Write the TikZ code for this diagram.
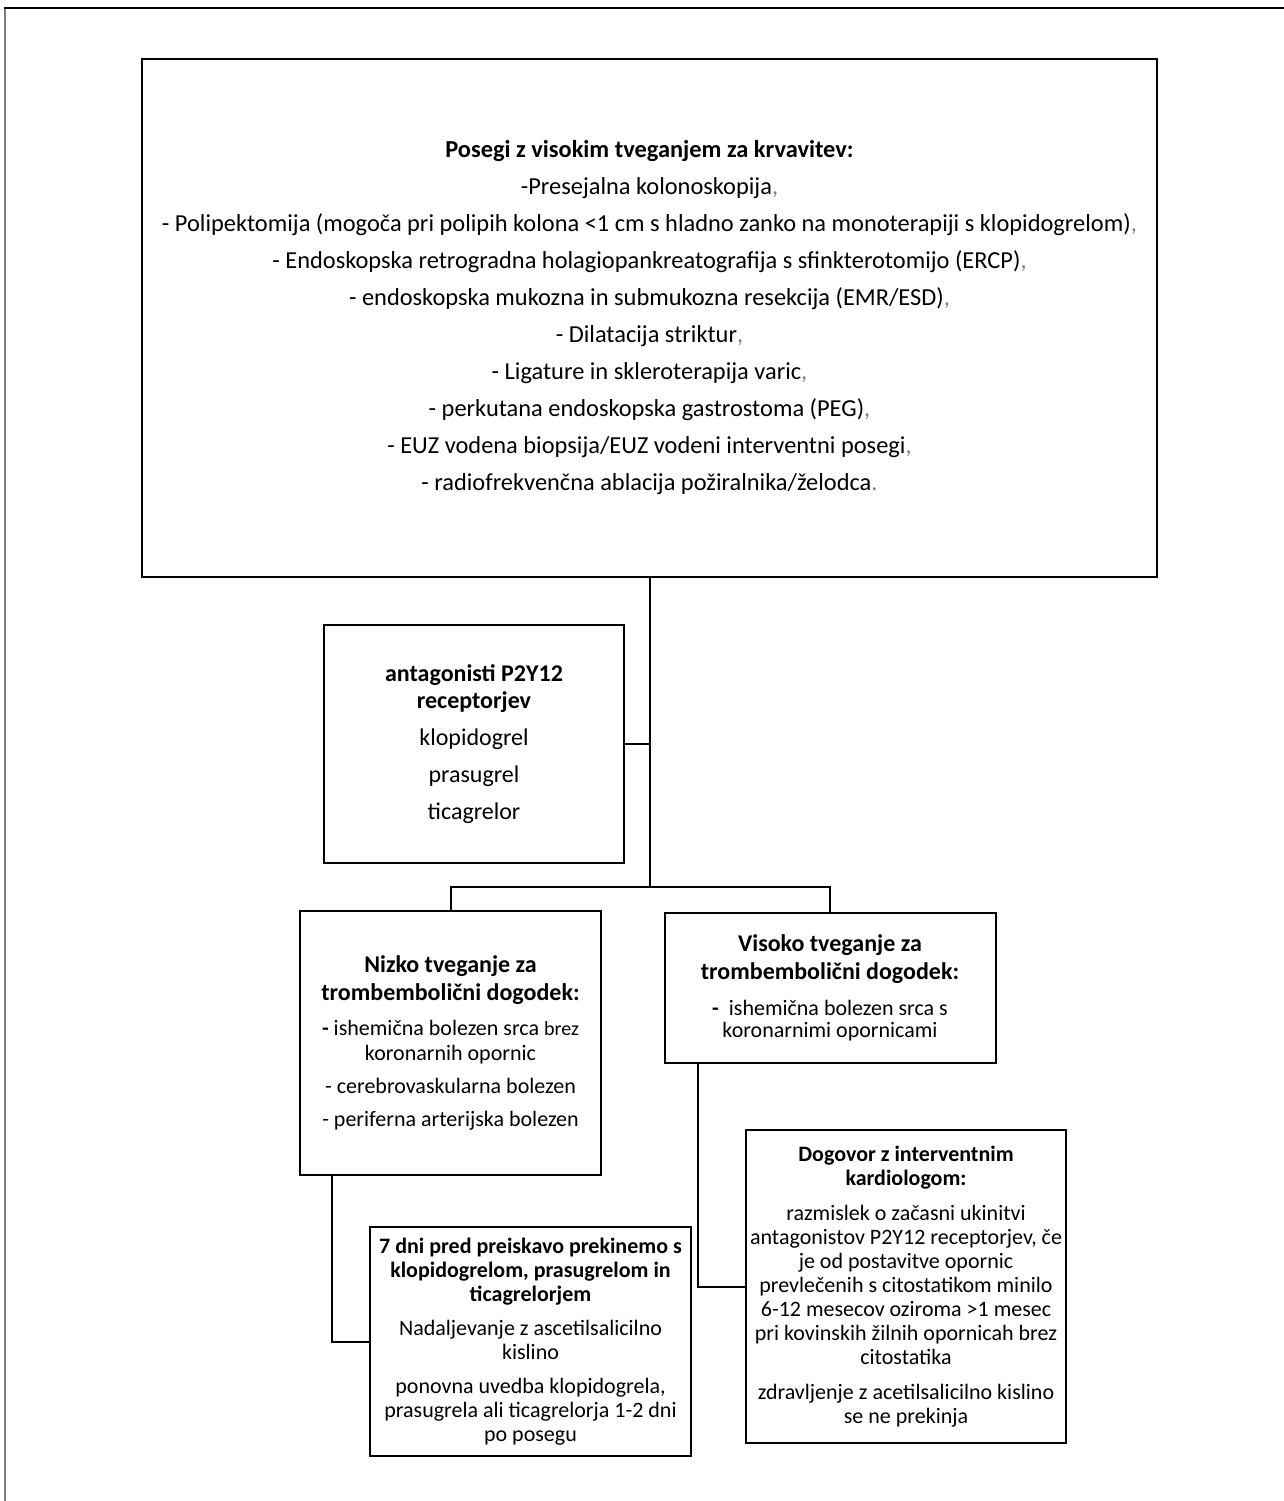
\documentclass[tikz,border=0pt]{standalone}
\usepackage{fontspec}
\setmainfont{Carlito}
\usepackage{xcolor}
\newcommand\gcm{\textcolor{gray}{,}}
\tikzset{
  box/.style={draw=black, line width=2pt, inner sep=0pt, align=center, anchor=center},
  conn/.style={draw=black, line width=2pt},
}
\begin{document}
\begin{tikzpicture}[x=1pt,y=-1pt]
\useasboundingbox (0,0) rectangle (1284,1501);
\draw[gray, line width=1.5pt] (5,1501) -- (5,8);
\draw[black, line width=1.5pt] (4.25,8) -- (1284,8);

\node[box, line width=2.5pt, minimum width=1015pt, minimum height=518pt,
  font=\fontsize{24.4}{37}\selectfont] (top) at (649.5,318) {%
\textbf{Posegi z visokim tveganjem za krvavitev:}\\
-Presejalna kolonoskopija\gcm\\
- Polipektomija (mogoča pri polipih kolona <1 cm s hladno zanko na monoterapiji s klopidogrelom)\gcm\\
- Endoskopska retrogradna holagiopankreatografija s sfinkterotomijo (ERCP)\gcm\\
- endoskopska mukozna in submukozna resekcija (EMR/ESD)\gcm\\
- Dilatacija striktur\gcm\\
- Ligature in skleroterapija varic\gcm\\
- perkutana endoskopska gastrostoma (PEG)\gcm\\
- EUZ vodena biopsija/EUZ vodeni interventni posegi\gcm\\
- radiofrekvenčna ablacija požiralnika/želodca\textcolor{gray}{.}};

\node[box, minimum width=300pt, minimum height=238pt,
  font=\fontsize{24}{27}\selectfont] (anta) at (474,744) {%
\textbf{antagonisti P2Y12}\\
\textbf{receptorjev}\\[10pt]
klopidogrel\\[10pt]
prasugrel\\[10pt]
ticagrelor};

\node[box, minimum width=301pt, minimum height=264pt,
  font=\fontsize{22}{25}\selectfont] (nizko) at (450.5,1043) {%
{\fontsize{24}{28}\selectfont\bfseries Nizko tveganje za}\\[3pt]
{\fontsize{24}{28}\selectfont\bfseries trombembolični dogodek:}\\[10pt]
{\bfseries -} ishemična bolezen srca {\fontsize{20}{24}\selectfont brez}\\
koronarnih opornic\\[8pt]
- cerebrovaskularna bolezen\\[8pt]
- periferna arterijska bolezen};

\node[box, minimum width=331pt, minimum height=150pt,
  font=\fontsize{22}{22}\selectfont] (visoko) at (830,988) {%
{\fontsize{24}{28}\selectfont\bfseries Visoko tveganje za}\\[6pt]
{\fontsize{24}{28}\selectfont\bfseries trombembolični dogodek:}\\[14pt]
{\bfseries -}\ \ ishemična bolezen srca s\\
koronarnimi opornicami};

\node[box, minimum width=321pt, minimum height=229pt,
  font=\fontsize{22}{24}\selectfont] (dni) at (530.5,1341.5) {%
\textbf{7 dni pred preiskavo prekinemo s}\\
\textbf{klopidogrelom, prasugrelom in}\\
\textbf{ticagrelorjem}\\[10pt]
Nadaljevanje z ascetilsalicilno\\
kislino\\[10pt]
ponovna uvedba klopidogrela,\\
prasugrela ali ticagrelorja 1-2 dni\\
po posegu};

\node[box, minimum width=320pt, minimum height=313pt,
  font=\fontsize{22}{24}\selectfont] (dog) at (906,1286.5) {%
\textbf{Dogovor z interventnim}\\
\textbf{kardiologom:}\\[11pt]
razmislek o začasni ukinitvi\\
antagonistov P2Y12 receptorjev, če\\
je od postavitve opornic\\
prevlečenih s citostatikom minilo\\
6-12 mesecov oziroma >1 mesec\\
pri kovinskih žilnih opornicah brez\\
citostatika\\[11pt]
zdravljenje z acetilsalicilno kislino\\
se ne prekinja};

\coordinate (j1) at (649.5,887);
\draw[conn] (top.south) -- (j1);
\draw[conn] (anta.east) -- (anta.east -| j1);
\draw[conn] (nizko.north) |- (j1) -| (visoko.north);
\draw[conn] ([xshift=-118.5pt]nizko.south) |- (dni.west);
\draw[conn] ([xshift=-132pt]visoko.south) |- (dog.west);
\end{tikzpicture}
\end{document}
